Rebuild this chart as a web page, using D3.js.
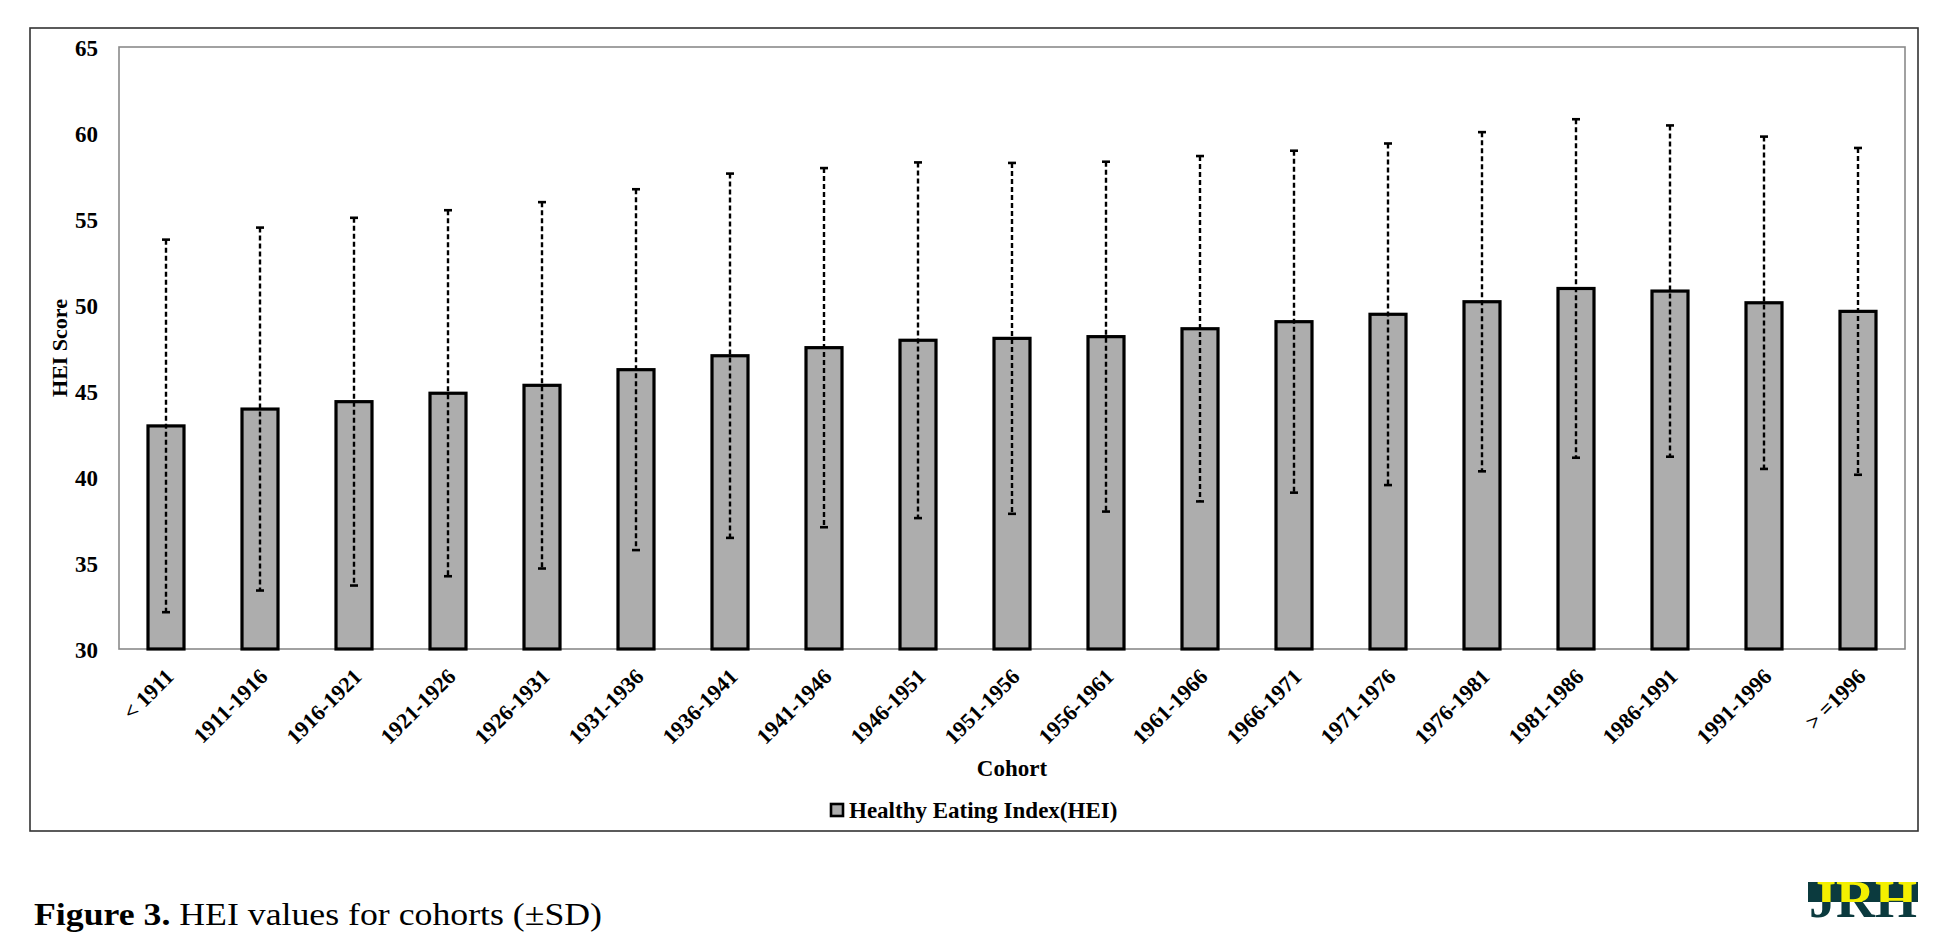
<!DOCTYPE html>
<html>
<head>
<meta charset="utf-8">
<script src="https://cdn.jsdelivr.net/npm/d3@7"></script>
<style>
  body { margin: 0; background: #fff; }
  svg { display: block; }
  .lbl { font-family: "Liberation Serif", "Times New Roman", serif; font-weight: bold; fill: #000; }
</style>
</head>
<body>
<svg id="chart" width="1952" height="948"></svg>
<script>
// cohorts and HEI values (mean, SD)
var cohorts = ["< 1911", "1911-1916", "1916-1921", "1921-1926", "1926-1931", "1931-1936",
  "1936-1941", "1941-1946", "1946-1951", "1951-1956", "1956-1961", "1961-1966",
  "1966-1971", "1971-1976", "1976-1981", "1981-1986", "1986-1991", "1991-1996", "> =1996"];
var heiMean = [42.97, 43.95, 44.38, 44.87, 45.33, 46.24, 47.05, 47.52, 47.95, 48.06,
  48.16, 48.62, 49.03, 49.46, 50.19, 50.96, 50.81, 50.13, 49.63];
var heiSD = [10.83, 10.55, 10.69, 10.64, 10.65, 10.49, 10.59, 10.44, 10.34, 10.20,
  10.17, 10.04, 9.94, 9.93, 9.86, 9.84, 9.63, 9.66, 9.50];
var yTicks = [30, 35, 40, 45, 50, 55, 60, 65];
var seriesName = "Healthy Eating Index(HEI)";

var svg = d3.select("#chart");

// plot area (window.top is taken, so prefixed names)
var pLeft = 119, pRight = 1905, pTop = 47, pBottom = 649;

var x = d3.scaleBand().domain(cohorts).range([pLeft, pRight])
  .paddingInner(0.617).paddingOuter(0.3085);
var y = d3.scaleLinear().domain([30, 65]).range([pBottom, pTop]);

// outer chart frame
svg.append("rect").attr("x", 30).attr("y", 28).attr("width", 1888).attr("height", 803)
  .attr("fill", "none").attr("stroke", "#333").attr("stroke-width", 1.6);

// plot frame
svg.append("rect").attr("x", pLeft).attr("y", pTop).attr("width", pRight - pLeft).attr("height", pBottom - pTop)
  .attr("fill", "none").attr("stroke", "#8a8a8a").attr("stroke-width", 1.6);

// bars
svg.append("g").selectAll("rect").data(heiMean).enter().append("rect")
  .attr("x", function(d, i){ return x(cohorts[i]); })
  .attr("y", function(d){ return y(d); })
  .attr("width", x.bandwidth())
  .attr("height", function(d){ return pBottom - y(d); })
  .attr("fill", "#adadad").attr("stroke", "#000").attr("stroke-width", 3.2);

// error bars (+-SD)
var eb = svg.append("g").selectAll("g").data(heiMean).enter().append("g")
  .attr("transform", function(d, i){ return "translate(" + (x(cohorts[i]) + x.bandwidth()/2) + ",0)"; });
eb.append("line")
  .attr("y1", function(d, i){ return y(d + heiSD[i]); })
  .attr("y2", function(d, i){ return y(d - heiSD[i]); })
  .attr("stroke", "#000").attr("stroke-width", 2.4).attr("stroke-dasharray", "5,3");
eb.append("line").attr("x1", -4).attr("x2", 4)
  .attr("y1", function(d, i){ return y(d + heiSD[i]); })
  .attr("y2", function(d, i){ return y(d + heiSD[i]); })
  .attr("stroke", "#000").attr("stroke-width", 2.6);
eb.append("line").attr("x1", -4).attr("x2", 4)
  .attr("y1", function(d, i){ return y(d - heiSD[i]); })
  .attr("y2", function(d, i){ return y(d - heiSD[i]); })
  .attr("stroke", "#000").attr("stroke-width", 2.6);

// y axis
var gy = svg.append("g").attr("transform", "translate(" + pLeft + ",0)")
  .call(d3.axisLeft(y).tickValues(yTicks).tickSize(0).tickPadding(21));
gy.select(".domain").remove();
gy.selectAll("text").attr("class", "lbl").style("font-size", "23px").attr("dy", "0.35em");

// x axis
var gx = svg.append("g").attr("transform", "translate(0," + pBottom + ")")
  .call(d3.axisBottom(x).tickSize(0));
gx.select(".domain").remove();
gx.selectAll("text").attr("class", "lbl").style("font-size", "22px")
  .attr("x", 0).attr("y", 0).attr("dy", 0)
  .attr("text-anchor", "end")
  .attr("transform", "translate(9,29) rotate(-45)");

// axis titles
svg.append("text").attr("class", "lbl").style("font-size", "22px")
  .attr("text-anchor", "middle")
  .attr("transform", "translate(67," + ((pTop + pBottom) / 2) + ") rotate(-90)")
  .text("HEI Score");
svg.append("text").attr("class", "lbl").style("font-size", "23px")
  .attr("text-anchor", "middle").attr("x", (pLeft + pRight) / 2).attr("y", 776)
  .text("Cohort");

// legend
svg.append("rect").attr("x", 831).attr("y", 804).attr("width", 12).attr("height", 12)
  .attr("fill", "#adadad").attr("stroke", "#000").attr("stroke-width", 2.6);
svg.append("text").attr("class", "lbl").style("font-size", "23px")
  .attr("x", 849).attr("y", 818).text(seriesName);

// caption
var cap = svg.append("text")
  .attr("x", 34).attr("y", 925)
  .attr("textLength", 568).attr("lengthAdjust", "spacingAndGlyphs")
  .style("font-family", "'Palatino Linotype', 'Book Antiqua', Palatino, 'Liberation Serif', serif")
  .style("font-size", "31px").attr("fill", "#000");
cap.append("tspan").style("font-weight", "bold").text("Figure 3.");
cap.append("tspan").text(" HEI values for cohorts (\u00b1SD)");

// journal logo
var defs = svg.append("defs");
defs.append("clipPath").attr("id", "logoTop").append("rect")
  .attr("x", 1800).attr("y", 870).attr("width", 130).attr("height", 32);
defs.append("clipPath").attr("id", "logoBot").append("rect")
  .attr("x", 1800).attr("y", 902).attr("width", 130).attr("height", 30);
svg.append("rect").attr("x", 1808).attr("y", 882).attr("width", 110).attr("height", 20).attr("fill", "#0b3a3e");
["#f4f000", "#0b3a3e"].forEach(function(c, k){
  svg.append("text")
    .attr("clip-path", k === 0 ? "url(#logoTop)" : "url(#logoBot)")
    .attr("x", 1809).attr("y", 917)
    .attr("textLength", 108).attr("lengthAdjust", "spacingAndGlyphs")
    .style("font-family", "'Liberation Serif', serif").style("font-weight", "bold")
    .style("font-size", "53px").attr("fill", c)
    .text("JRH");
});
</script>
</body>
</html>
